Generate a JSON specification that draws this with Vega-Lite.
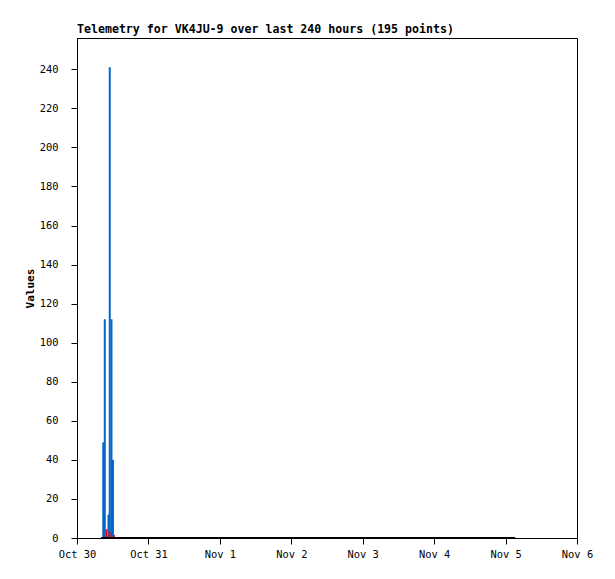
{
  "$schema": "https://vega.github.io/schema/vega-lite/v6.json",
  "width": 500,
  "height": 500,
  "autosize": {"type": "none"},
  "padding": {"left": 77, "top": 38, "right": 38, "bottom": 41},
  "background": "white",
  "title": {
    "text": "Telemetry for VK4JU-9 over last 240 hours (195 points)",
    "anchor": "start",
    "frame": "group",
    "font": "DejaVu Sans Mono",
    "fontSize": 11.6,
    "fontWeight": "bold",
    "color": "black",
    "offset": 2
  },
  "config": {
    "view": {"stroke": "black", "strokeWidth": 1},
    "axis": {
      "domainColor": "black",
      "tickColor": "black",
      "labelColor": "black",
      "titleColor": "black",
      "labelFont": "DejaVu Sans Mono",
      "titleFont": "DejaVu Sans Mono",
      "labelFontSize": 10.4,
      "grid": false
    }
  },
  "datasets": {
    "bars": [
      {"time": "2023-10-30T08:50:00Z", "series": "blue", "value": 49},
      {"time": "2023-10-30T09:20:00Z", "series": "blue", "value": 112},
      {"time": "2023-10-30T10:35:00Z", "series": "blue", "value": 12},
      {"time": "2023-10-30T11:00:00Z", "series": "blue", "value": 241},
      {"time": "2023-10-30T11:35:00Z", "series": "blue", "value": 112},
      {"time": "2023-10-30T12:05:00Z", "series": "blue", "value": 40},
      {"time": "2023-10-30T09:55:00Z", "series": "red", "value": 4.5},
      {"time": "2023-10-30T10:55:00Z", "series": "red", "value": 3},
      {"time": "2023-10-30T12:25:00Z", "series": "red", "value": 1.5}
    ],
    "zero": [
      {"time": "2023-10-30T08:05:00Z", "value": 0},
      {"time": "2023-11-01T00:00:00Z", "value": 0},
      {"time": "2023-11-03T00:00:00Z", "value": 0},
      {"time": "2023-11-05T03:15:00Z", "value": 0}
    ]
  },
  "layer": [
    {
      "data": {"name": "bars"},
      "mark": {"type": "bar", "width": 2},
      "encoding": {
        "x": {
          "field": "time",
          "type": "temporal",
          "scale": {"type": "utc", "domain": ["2023-10-30T00:00:00Z", "2023-11-06T00:00:00Z"], "nice": false, "padding": 0},
          "axis": {
            "title": null,
            "labelExpr": "utcFormat(datum.value, '%b %-d')",
            "tickCount": {"interval": "day", "step": 1},
            "tickSize": 6,
            "labelPadding": 5,
            "labelFlush": false,
            "labelOverlap": false
          }
        },
        "y": {
          "field": "value",
          "type": "quantitative",
          "scale": {"domain": [0, 256], "nice": false},
          "axis": {
            "title": "Values",
            "titleFontWeight": "bold",
            "titleFontSize": 11,
            "titlePadding": 4,
            "values": [0, 20, 40, 60, 80, 100, 120, 140, 160, 180, 200, 220, 240],
            "tickSize": 6,
            "labelPadding": 13
          }
        },
        "color": {
          "field": "series",
          "type": "nominal",
          "scale": {"domain": ["blue", "red"], "range": ["#0066CC", "#FF0000"]},
          "legend": null
        },
        "order": {"field": "series", "sort": "ascending"}
      }
    },
    {
      "data": {"name": "zero"},
      "mark": {"type": "line", "color": "black", "strokeWidth": 2},
      "encoding": {
        "x": {"field": "time", "type": "temporal"},
        "y": {"field": "value", "type": "quantitative"}
      }
    }
  ]
}
